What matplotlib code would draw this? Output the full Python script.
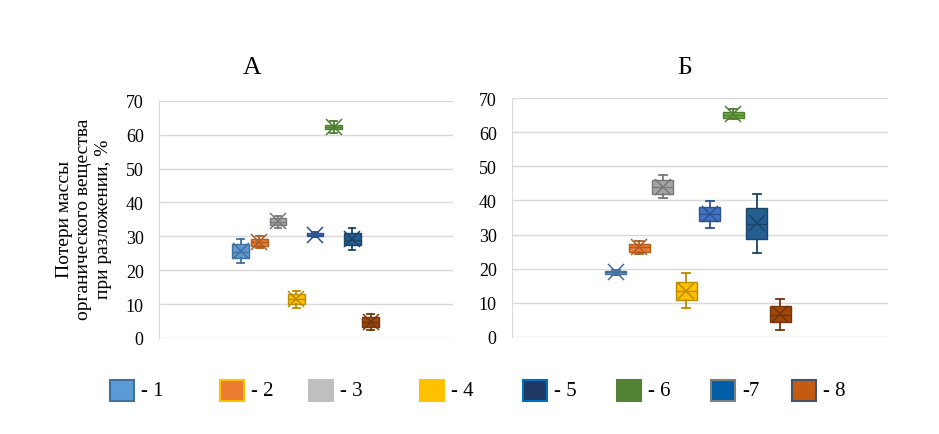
import matplotlib

matplotlib.use("Agg")
import matplotlib.pyplot as plt
from matplotlib.patches import Rectangle

plt.rcParams["font.family"] = ["Liberation Serif", "DejaVu Serif"]

# --- data ---
series = ["1", "2", "3", "4", "5", "6", "7", "8"]
legend_labels = ["- 1", "- 2", "- 3", "- 4", "- 5", "- 6", "-7", "- 8"]

# panel А
whislo_a = [22.0, 26.6, 32.4, 8.9, 29.7, 60.5, 26.0, 2.4]
q1_a = [23.5, 27.1, 33.2, 10.0, 30.0, 61.6, 27.4, 3.3]
med_a = [25.5, 28.2, 34.3, 11.5, 30.5, 62.2, 29.0, 4.7]
q3_a = [27.6, 29.2, 35.5, 13.0, 31.0, 62.8, 31.0, 6.1]
whishi_a = [29.3, 30.1, 35.9, 14.0, 31.3, 63.9, 32.4, 7.1]
mean_a = [25.6, 28.3, 34.4, 11.5, 30.5, 62.2, 29.2, 4.7]

# panel Б
whislo_b = [18.2, 24.3, 40.6, 8.3, 32.0, 63.8, 24.7, 2.0]
q1_b = [18.4, 25.0, 42.0, 10.8, 33.9, 64.3, 28.7, 4.2]
med_b = [19.0, 26.2, 44.0, 13.5, 36.0, 65.2, 33.0, 6.5]
q3_b = [19.4, 27.3, 45.9, 16.1, 38.0, 66.1, 37.7, 9.0]
whishi_b = [19.6, 28.1, 47.4, 18.7, 39.9, 66.8, 41.9, 11.1]
mean_b = [19.0, 26.2, 44.0, 13.5, 36.0, 65.3, 33.5, 6.6]

yticks = [0, 10, 20, 30, 40, 50, 60, 70]

# --- styles ---
box_fill = ["#5B9BD5", "#ED7D31", "#A5A5A5", "#FFC000", "#4472C4", "#70AD47", "#255E91", "#9E480E"]
box_edge = ["#41719C", "#AE5A21", "#787878", "#BC8C00", "#2F528F", "#507E32", "#1B4469", "#733509"]
leg_fill = ["#5B9BD5", "#ED7D31", "#BFBFBF", "#FFC000", "#203864", "#548235", "#005EA6", "#C55A11"]
leg_edge = ["#41719C", "#FFC000", "#BFBFBF", "#FFC000", "#0070C0", "#548235", "#7F7F7F", "#44546A"]
leg_x_px = [110, 220, 309, 420, 523, 617, 711, 792]
grid_col = "#D9D9D9"

W, H = 939, 435
fig = plt.figure(figsize=(W / 100, H / 100), dpi=100)


def draw_panel(rect, xlim, stats_cols):
    ax = fig.add_axes(rect)
    lo, q1, med, q3, hi, mean = stats_cols
    for i in range(len(series)):
        st = [dict(whislo=lo[i], q1=q1[i], med=med[i], q3=q3[i], whishi=hi[i],
                   mean=mean[i], fliers=[], label=series[i])]
        c, e = box_fill[i], box_edge[i]
        ax.bxp(st, positions=[i + 1], widths=0.9, patch_artist=True, showmeans=True,
               boxprops=dict(facecolor=c, edgecolor=e, linewidth=1.0),
               medianprops=dict(color=e, linewidth=1.0),
               whiskerprops=dict(color=e, linewidth=1.3),
               capprops=dict(color=e, linewidth=1.3),
               capwidths=0.35,
               meanprops=dict(marker="x", markersize=11, markeredgecolor=e,
                              markeredgewidth=1.1),
               manage_ticks=False)
    ax.set_xlim(*xlim)
    ax.set_ylim(0, 70)
    ax.set_yticks(yticks)
    ax.set_xticks([])
    ax.yaxis.grid(True, color=grid_col, linewidth=1.0)
    ax.set_axisbelow(True)
    for s in ["top", "right", "bottom"]:
        ax.spines[s].set_visible(False)
    ax.spines["left"].set_color(grid_col)
    ax.tick_params(axis="y", length=0, pad=11, labelsize=13, labelcolor="black")
    return ax


draw_panel([159 / W, (H - 339) / H, 294 / W, (339 - 101.7) / H], (-3.4, 12.43),
           (whislo_a, q1_a, med_a, q3_a, whishi_a, mean_a))
draw_panel([512 / W, (H - 337.7) / H, 376 / W, (337.7 - 99.3) / H], (-3.41, 12.59),
           (whislo_b, q1_b, med_b, q3_b, whishi_b, mean_b))

fig.text(252 / W, (H - 68) / H, "А", fontsize=18.5, ha="center", va="center")
fig.text(685 / W, (H - 68) / H, "Б", fontsize=18.5, ha="center", va="center")

fig.text(84 / W, (H - 219) / H, "Потери массы\nорганического вещества\nпри разложении, %",
         rotation=90, ha="center", va="center", multialignment="center",
         fontsize=14, linespacing=1.2)

# legend
for x, lab, fc, ec in zip(leg_x_px, legend_labels, leg_fill, leg_edge):
    fig.add_artist(Rectangle((x / W, (H - 402) / H), 24 / W, 21 / H, transform=fig.transFigure,
                             facecolor=fc, edgecolor=ec, linewidth=1.5))
    fig.text((x + 31) / W, (H - 392) / H, lab, fontsize=15, ha="left", va="center")

fig.savefig("out.png", dpi=100)
